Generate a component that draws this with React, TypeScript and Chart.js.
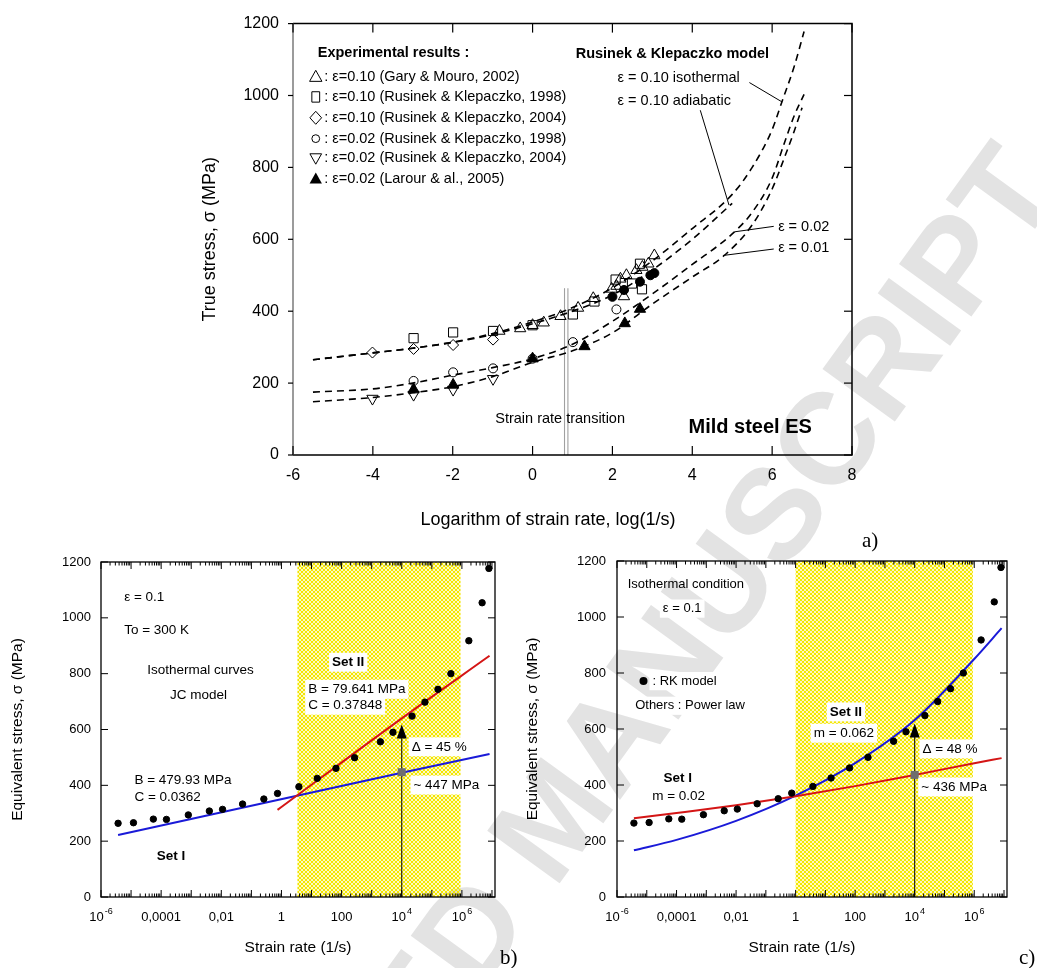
import React, { useEffect, useRef } from "react";
import { Chart, registerables } from "chart.js";

Chart.register(...registerables);

const FONT = "'Liberation Sans', Arial, Helvetica, sans-serif";
const SERIF = "'Liberation Serif', 'Times New Roman', serif";
Chart.defaults.font.family = FONT;
Chart.defaults.color = "#000";

// ---------------- Panel a) data ----------------
const stressTicks = [0, 200, 400, 600, 800, 1000, 1200];
const logTicksA = [-6, -4, -2, 0, 2, 4, 6, 8];

const garyLog = [-0.83, -0.31, 0, 0.28, 0.7, 1.14, 1.52, 1.98, 2.1, 2.2, 2.29, 2.35, 2.6, 2.75, 2.9, 3.05];
const garyStress = [345, 352, 361, 368, 386, 409, 436, 462, 470, 490, 441, 500, 514, 523, 532, 555];
const rk98SqLog = [-2.98, -1.99, -0.99, 0, 1.01, 1.55, 2.08, 2.49, 2.69, 2.74];
const rk98SqStress = [325, 341, 345, 361, 391, 427, 488, 477, 532, 461];
const rk04DiaLog = [-4.01, -2.98, -1.99, -0.99];
const rk04DiaStress = [285, 295, 306, 321];
const rk98CircLog = [-2.98, -1.99, -0.99, 0, 1.01, 2.1];
const rk98CircStress = [206, 230, 241, 268, 314, 405];
const rk04TriLog = [-4.01, -2.98, -1.99, -0.99];
const rk04TriStress = [157, 168, 182, 212];
const larourLog = [-2.98, -1.99, 0, 1.3, 2.31, 2.69];
const larourStress = [182, 195, 268, 302, 366, 406];
const filledLog = [2.0, 2.29, 2.69, 2.95, 3.05];
const filledStress = [440, 459, 482, 500, 506];

const isoLog = [-5.5, -4, -3, -2, -1, 0, 1, 2, 3, 4, 5, 5.5, 6, 6.25, 6.55, 6.8];
const isoStress = [265, 284, 297, 314, 338, 370, 410, 465, 540, 630, 725, 800, 905, 984, 1080, 1178];
const adiLog = [-5.5, -4, -3, -2, -1, 0, 1, 2, 3, 4, 5];
const adiStress = [265, 284, 297, 313, 335, 365, 400, 445, 515, 600, 700];
const eps02Log = [-5.5, -4, -3, -2, -1, 0, 1, 2, 3, 4, 5, 5.5, 6, 6.3, 6.55, 6.8];
const eps02Stress = [175, 184, 200, 222, 243, 268, 308, 372, 448, 530, 615, 675, 770, 866, 943, 1003];
const eps01Log = [-5.5, -4, -3, -2, -1, 0, 1, 2, 3, 4, 4.8, 5.5, 6, 6.3, 6.55, 6.75];
const eps01Stress = [148, 160, 173, 190, 218, 258, 290, 340, 420, 495, 555, 640, 740, 825, 900, 966];

const transitionLog = [0.8, 0.885];
const transitionTop = 464;

// ---------------- Panels b) and c) data ----------------
const rateTickValues = [1e-6, 1e-4, 1e-2, 1, 100, 1e4, 1e6];
const rateTickText = ["10", "0,0001", "0,01", "1", "100", "10", "10"];
const rateTickSup = ["-6", "", "", "", "", "4", "6"];

const rkRate = [3.7e-6, 1.2e-5, 5.5e-5, 1.5e-4, 8e-4, 4e-3, 1.1e-2, 5.1e-2, 2.6e-1, 7.4e-1, 3.8, 15.5, 65, 270, 1950, 5100, 2.2e4, 5.9e4, 1.6e5, 4.3e5, 1.7e6, 4.7e6, 7.9e6];
const rkStress = [264, 266, 279, 278, 294, 308, 314, 333, 351, 371, 395, 425, 461, 499, 556, 590, 648, 698, 744, 800, 918, 1054, 1177];

// JC fits (panel b)
const jcSet1Rate = [3.7e-6, 1e4, 8.3e6];
const jcSet1Stress = [222, 445, 512];
const jcSet2Rate = [0.74, 1e4, 8.3e6];
const jcSet2Stress = [312, 640, 864];
const bandB = [3.4, 9e5];
const arrowB = { rate: 1e4, base: 447, tip: 618 };

// Power-law fits (panel c)
const plRate = [3.7e-6, 1e-4, 1e-2, 1, 100, 1e4, 1e6, 8.3e6];
const plSet1Stress = [281, 300, 328, 360, 396, 436, 478, 496];
const plSet2Stress = [167, 204, 272, 362, 478, 632, 850, 960];
const bandC = [1, 9e5];
const arrowC = { rate: 1e4, base: 436, tip: 620 };

const zip = (xs: number[], ys: number[]) => xs.map((x, i) => ({ x, y: ys[i] }));

// ---------------- drawing helpers ----------------
function txt(ctx: CanvasRenderingContext2D, s: string, x: number, y: number, o: any = {}) {
  const size = o.size ?? 13;
  ctx.save();
  ctx.font = `${o.bold ? "bold " : ""}${size}px ${o.family ?? FONT}`;
  ctx.textAlign = o.align ?? "left";
  ctx.textBaseline = "middle";
  if (o.bg) {
    const w = ctx.measureText(s).width;
    const x0 = o.align === "center" ? x - w / 2 : o.align === "right" ? x - w : x;
    ctx.fillStyle = "#fff";
    ctx.fillRect(x0 - 3, y - size * 0.7, w + 6, size * 1.4);
  }
  ctx.fillStyle = "#000";
  ctx.fillText(s, x, y);
  ctx.restore();
}

function seg(ctx: CanvasRenderingContext2D, x1: number, y1: number, x2: number, y2: number) {
  ctx.beginPath();
  ctx.moveTo(x1, y1);
  ctx.lineTo(x2, y2);
  ctx.stroke();
}

function sym(ctx: CanvasRenderingContext2D, kind: string, cx: number, cy: number, r: number) {
  ctx.save();
  ctx.lineWidth = 1;
  ctx.strokeStyle = "#000";
  ctx.fillStyle = "#000";
  ctx.beginPath();
  if (kind === "tri" || kind === "triFill") {
    ctx.moveTo(cx, cy - r);
    ctx.lineTo(cx + r * 0.95, cy + r * 0.7);
    ctx.lineTo(cx - r * 0.95, cy + r * 0.7);
    ctx.closePath();
    kind === "triFill" ? ctx.fill() : ctx.stroke();
  } else if (kind === "triDown") {
    ctx.moveTo(cx, cy + r);
    ctx.lineTo(cx + r * 0.9, cy - r * 0.6);
    ctx.lineTo(cx - r * 0.9, cy - r * 0.6);
    ctx.closePath();
    ctx.stroke();
  } else if (kind === "sq") {
    ctx.rect(cx - r * 0.6, cy - r * 0.8, r * 1.2, r * 1.6);
    ctx.stroke();
  } else if (kind === "dia") {
    ctx.moveTo(cx, cy - r);
    ctx.lineTo(cx + r * 0.9, cy);
    ctx.lineTo(cx, cy + r);
    ctx.lineTo(cx - r * 0.9, cy);
    ctx.closePath();
    ctx.stroke();
  } else if (kind === "circ") {
    ctx.arc(cx, cy, r * 0.6, 0, Math.PI * 2);
    ctx.stroke();
  }
  ctx.restore();
}

let hatchCache: CanvasPattern | null = null;
function hatch(ctx: CanvasRenderingContext2D) {
  if (hatchCache) return hatchCache;
  const c = document.createElement("canvas");
  c.width = 4;
  c.height = 4;
  const g = c.getContext("2d")!;
  g.fillStyle = "#f4e600";
  g.fillRect(0, 0, 4, 4);
  g.globalCompositeOperation = "destination-out";
  g.strokeStyle = "rgba(0,0,0,0.85)";
  g.lineWidth = 0.9;
  g.beginPath();
  g.moveTo(0, 0);
  g.lineTo(4, 4);
  g.moveTo(4, 0);
  g.lineTo(0, 4);
  g.stroke();
  hatchCache = ctx.createPattern(c, "repeat");
  return hatchCache!;
}

// ---------------- Panel a) plugin ----------------
const pluginA = {
  id: "overlayA",
  beforeDatasetsDraw(chart: any) {
    const { ctx, scales: { x, y } } = chart;
    ctx.save();
    ctx.strokeStyle = "#a0a0a0";
    ctx.lineWidth = 1.1;
    for (const t of transitionLog) {
      const px = x.getPixelForValue(t);
      seg(ctx, px, y.getPixelForValue(0), px, y.getPixelForValue(transitionTop));
    }
    ctx.restore();
  },
  afterDraw(chart: any) {
    const { ctx, chartArea: { left, right, top, bottom }, scales: { x, y } } = chart;
    const X = (v: number) => x.getPixelForValue(v);
    const Y = (v: number) => y.getPixelForValue(v);
    ctx.save();
    ctx.lineWidth = 1.5;
    ctx.strokeStyle = "#000";
    ctx.beginPath();
    ctx.moveTo(left, top);
    ctx.lineTo(right, top);
    ctx.lineTo(right, bottom);
    ctx.lineTo(left, bottom);
    ctx.stroke();
    ctx.strokeStyle = "#7a7a7a";
    seg(ctx, left, top, left, bottom);
    ctx.strokeStyle = "#000";
    ctx.lineWidth = 1.2;
    for (const v of logTicksA) {
      seg(ctx, X(v), bottom, X(v), bottom - 9);
      seg(ctx, X(v), top, X(v), top + 9);
    }
    for (const v of stressTicks) {
      seg(ctx, right, Y(v), right - 8, Y(v));
      seg(ctx, left, Y(v), left - 5, Y(v));
    }
    ctx.restore();

    // legend block
    txt(ctx, "Experimental results :", X(-5.38), Y(1118), { size: 14.5, bold: true });
    const rows = [
      ["tri", ": ε=0.10 (Gary & Mouro, 2002)", 1052],
      ["sq", ": ε=0.10 (Rusinek & Klepaczko, 1998)", 996],
      ["dia", ": ε=0.10 (Rusinek & Klepaczko, 2004)", 938],
      ["circ", ": ε=0.02 (Rusinek & Klepaczko, 1998)", 880],
      ["triDown", ": ε=0.02 (Rusinek & Klepaczko, 2004)", 827],
      ["triFill", ": ε=0.02 (Larour & al., 2005)", 768],
    ] as const;
    for (const [k, s, v] of rows) {
      sym(ctx, k, X(-5.43), Y(v), 6.5);
      txt(ctx, s, X(-5.22), Y(v), { size: 14.5 });
    }

    txt(ctx, "Rusinek & Klepaczko model", X(1.08), Y(1116), { size: 14.5, bold: true });
    txt(ctx, "ε = 0.10 isothermal", X(2.13), Y(1050), { size: 14.5 });
    txt(ctx, "ε = 0.10 adiabatic", X(2.13), Y(986), { size: 14.5 });
    txt(ctx, "ε = 0.02", X(6.15), Y(634), { size: 14.5 });
    txt(ctx, "ε = 0.01", X(6.15), Y(575), { size: 14.5 });
    txt(ctx, "Strain rate transition", X(0.69), Y(100), { size: 14.5, align: "center" });
    txt(ctx, "Mild steel ES", X(5.45), Y(77), { size: 20, bold: true, align: "center" });

    ctx.save();
    ctx.strokeStyle = "#000";
    ctx.lineWidth = 1;
    seg(ctx, X(5.43), Y(1036), X(6.25), Y(982));
    seg(ctx, X(4.2), Y(959), X(4.92), Y(695));
    seg(ctx, X(6.04), Y(636), X(5.07), Y(621));
    seg(ctx, X(6.04), Y(573), X(4.77), Y(555));
    ctx.restore();

    // axis titles
    ctx.save();
    ctx.translate(60, (top + bottom) / 2);
    ctx.rotate(-Math.PI / 2);
    txt(ctx, "True stress, σ (MPa)", 0, 0, { size: 18, align: "center" });
    ctx.restore();
    txt(ctx, "Logarithm of strain rate, log(1/s)", 398, 520, { size: 18, align: "center" });
  },
};

// ---------------- Panels b) / c) helpers ----------------
function drawBand(chart: any, band: number[]) {
  const { ctx, chartArea: { top, bottom }, scales: { x } } = chart;
  const x0 = x.getPixelForValue(band[0]);
  const x1 = x.getPixelForValue(band[1]);
  ctx.save();
  ctx.fillStyle = hatch(ctx);
  ctx.fillRect(x0, top, x1 - x0, bottom - top);
  ctx.restore();
}

function drawLogFrame(chart: any, titleX: number) {
  const { ctx, chartArea: { left, right, top, bottom }, scales: { x, y } } = chart;
  ctx.save();
  ctx.strokeStyle = "#000";
  ctx.lineWidth = 1.3;
  ctx.strokeRect(left, top, right - left, bottom - top);
  ctx.lineWidth = 1;
  for (let d = -6; d <= 7; d++) {
    for (let k = 1; k <= 9; k++) {
      const v = k * Math.pow(10, d);
      if (v < x.min * 0.999 || v > x.max) continue;
      const px = x.getPixelForValue(v);
      const L = k === 1 ? 7 : 3.5;
      seg(ctx, px, bottom, px, bottom - L);
      seg(ctx, px, top, px, top + L);
    }
  }
  for (const v of stressTicks) {
    const py = y.getPixelForValue(v);
    seg(ctx, left, py, left + 7, py);
    seg(ctx, right, py, right - 7, py);
  }
  ctx.restore();

  // x tick labels with superscripts
  const ly = bottom + 20;
  rateTickValues.forEach((v, i) => {
    const px = x.getPixelForValue(v);
    ctx.save();
    ctx.font = `13px ${FONT}`;
    const w1 = ctx.measureText(rateTickText[i]).width;
    ctx.font = `9px ${FONT}`;
    const w2 = rateTickSup[i] ? ctx.measureText(rateTickSup[i]).width + 1 : 0;
    ctx.restore();
    const sx = px - (w1 + w2) / 2;
    txt(ctx, rateTickText[i], sx, ly, { size: 13 });
    if (rateTickSup[i]) txt(ctx, rateTickSup[i], sx + w1 + 1, ly - 5, { size: 9 });
  });

  ctx.save();
  ctx.translate(18, (top + bottom) / 2);
  ctx.rotate(-Math.PI / 2);
  txt(ctx, "Equivalent stress, σ (MPa)", 0, 0, { size: 15.5, align: "center" });
  ctx.restore();
  txt(ctx, "Strain rate (1/s)", titleX, 408, { size: 15.5, align: "center" });
}

function drawArrow(chart: any, a: { rate: number; base: number; tip: number }) {
  const { ctx, scales: { x, y } } = chart;
  const ax = x.getPixelForValue(a.rate);
  const yt = y.getPixelForValue(a.tip);
  ctx.save();
  ctx.strokeStyle = "#000";
  ctx.lineWidth = 1;
  seg(ctx, ax, y.getPixelForValue(0), ax, yt + 8);
  ctx.fillStyle = "#000";
  ctx.beginPath();
  ctx.moveTo(ax, yt);
  ctx.lineTo(ax + 5, yt + 14);
  ctx.lineTo(ax - 5, yt + 14);
  ctx.closePath();
  ctx.fill();
  ctx.fillStyle = "#6e6e6e";
  const by = y.getPixelForValue(a.base);
  ctx.fillRect(ax - 4, by - 4, 8, 8);
  ctx.restore();
}

const pluginB = {
  id: "overlayB",
  beforeDatasetsDraw(chart: any) {
    drawBand(chart, bandB);
  },
  afterDraw(chart: any) {
    const { ctx, scales: { x, y } } = chart;
    const X = (lg: number) => x.getPixelForValue(Math.pow(10, lg));
    const Y = (v: number) => y.getPixelForValue(v);
    drawArrow(chart, arrowB);
    drawLogFrame(chart, 298);
    txt(ctx, "ε = 0.1", X(-5.23), Y(1073), { size: 13.5 });
    txt(ctx, "To = 300 K", X(-5.23), Y(956), { size: 13.5 });
    txt(ctx, "Isothermal curves", X(-2.69), Y(811), { size: 13.5, align: "center" });
    txt(ctx, "JC model", X(-2.76), Y(721), { size: 13.5, align: "center" });
    txt(ctx, "Set II", X(2.22), Y(841), { size: 13.5, bold: true, align: "center", bg: true });
    txt(ctx, "B = 79.641 MPa", X(0.89), Y(744), { size: 13.5, bg: true });
    txt(ctx, "C = 0.37848", X(0.89), Y(687), { size: 13.5, bg: true });
    txt(ctx, "Δ = 45 %", X(4.33), Y(538), { size: 13.5, bg: true });
    txt(ctx, "~ 447 MPa", X(4.39), Y(401), { size: 13.5, bg: true });
    txt(ctx, "B = 479.93 MPa", X(-4.89), Y(419), { size: 13.5 });
    txt(ctx, "C = 0.0362", X(-4.89), Y(357), { size: 13.5 });
    txt(ctx, "Set I", X(-3.67), Y(147), { size: 13.5, bold: true, align: "center" });
  },
};

const pluginC = {
  id: "overlayC",
  beforeDatasetsDraw(chart: any) {
    drawBand(chart, bandC);
  },
  afterDraw(chart: any) {
    const { ctx, scales: { x, y } } = chart;
    const X = (lg: number) => x.getPixelForValue(Math.pow(10, lg));
    const Y = (v: number) => y.getPixelForValue(v);
    drawArrow(chart, arrowC);
    drawLogFrame(chart, 287);
    txt(ctx, "Isothermal condition", X(-5.64), Y(1116), { size: 13 });
    txt(ctx, "ε = 0.1", X(-3.81), Y(1030), { size: 13, align: "center", bg: true });
    ctx.save();
    ctx.fillStyle = "#000";
    ctx.beginPath();
    ctx.arc(X(-5.11), Y(771), 4, 0, Math.PI * 2);
    ctx.fill();
    ctx.restore();
    txt(ctx, ": RK model", X(-4.81), Y(771), { size: 13, bg: true });
    txt(ctx, "Others : Power law", X(-5.39), Y(683), { size: 13, bg: true });
    txt(ctx, "Set II", X(1.69), Y(661), { size: 13.5, bold: true, align: "center", bg: true });
    txt(ctx, "m = 0.062", X(1.62), Y(585), { size: 13.5, align: "center", bg: true });
    txt(ctx, "Set I", X(-3.96), Y(425), { size: 13.5, bold: true, align: "center" });
    txt(ctx, "m = 0.02", X(-3.93), Y(358), { size: 13.5, align: "center" });
    txt(ctx, "Δ = 48 %", X(4.26), Y(529), { size: 13.5, bg: true });
    txt(ctx, "~ 436 MPa", X(4.22), Y(393), { size: 13.5, bg: true });
  },
};

// ---------------- configs ----------------
const open = (data: any, style: string, r: number, rot = 0) => ({
  data,
  pointStyle: style,
  pointRadius: r,
  pointRotation: rot,
  borderColor: "#000",
  backgroundColor: "rgba(255,255,255,0)",
  pointBorderWidth: 1,
  showLine: false,
});
const filled = (data: any, style: string, r: number) => ({
  data,
  pointStyle: style,
  pointRadius: r,
  borderColor: "#000",
  backgroundColor: "#000",
  pointBorderWidth: 1,
  showLine: false,
});
const dashed = (data: any) => ({
  data,
  showLine: true,
  pointRadius: 0,
  borderColor: "#000",
  borderWidth: 1.6,
  borderDash: [7, 5],
  cubicInterpolationMode: "monotone",
  fill: false,
});

const noGrid = { display: false, drawTicks: false };

function configA(): any {
  return {
    type: "scatter",
    data: {
      datasets: [
        open(zip(garyLog, garyStress), "triangle", 6.5),
        open(zip(rk98SqLog, rk98SqStress), "rect", 6.5),
        open(zip(rk04DiaLog, rk04DiaStress), "rectRot", 5.5),
        open(zip(rk98CircLog, rk98CircStress), "circle", 4.5),
        open(zip(rk04TriLog, rk04TriStress), "triangle", 6.5, 180),
        filled(zip(larourLog, larourStress), "triangle", 6.5),
        filled(zip(filledLog, filledStress), "circle", 4.5),
        dashed(zip(isoLog, isoStress)),
        dashed(zip(adiLog, adiStress)),
        dashed(zip(eps02Log, eps02Stress)),
        dashed(zip(eps01Log, eps01Stress)),
      ],
    },
    options: {
      responsive: false,
      animation: false,
      layout: { padding: { top: 16, right: 28, left: 0, bottom: 0 } },
      plugins: { legend: { display: false }, tooltip: { enabled: false } },
      scales: {
        x: {
          type: "linear",
          min: -6,
          max: 8,
          ticks: { stepSize: 2, font: { size: 16 }, padding: 11, callback: (v: any) => String(v) },
          grid: noGrid,
          border: { display: false },
          afterFit: (s: any) => { s.height = 85; },
        },
        y: {
          type: "linear",
          min: 0,
          max: 1200,
          ticks: { stepSize: 200, font: { size: 16 }, padding: 14, callback: (v: any) => String(v) },
          grid: noGrid,
          border: { display: false },
          afterFit: (s: any) => { s.width = 143; },
        },
      },
    },
    plugins: [pluginA],
  };
}

function lineDs(data: any, color: string) {
  return {
    data,
    showLine: true,
    pointRadius: 0,
    borderColor: color,
    borderWidth: 2,
    cubicInterpolationMode: "monotone",
    fill: false,
  };
}

function panelOptions(yWidth: number, padTop: number, padRight: number, yPad: number): any {
  return {
    responsive: false,
    animation: false,
    layout: { padding: { top: padTop, right: padRight, left: 0, bottom: 0 } },
    plugins: { legend: { display: false }, tooltip: { enabled: false } },
    scales: {
      x: {
        type: "logarithmic",
        min: 1e-6,
        max: 1.26e7,
        ticks: { display: false },
        grid: noGrid,
        border: { display: false },
        afterFit: (s: any) => { s.height = 71; },
      },
      y: {
        type: "linear",
        min: 0,
        max: 1200,
        ticks: { stepSize: 200, font: { size: 13 }, padding: yPad, callback: (v: any) => String(v) },
        grid: noGrid,
        border: { display: false },
        afterFit: (s: any) => { s.width = yWidth; },
      },
    },
  };
}

const dots = (data: any) => ({
  data,
  pointStyle: "circle",
  pointRadius: 3.2,
  borderColor: "#000",
  backgroundColor: "#000",
  showLine: false,
});

function configB(): any {
  return {
    type: "scatter",
    data: {
      datasets: [
        dots(zip(rkRate, rkStress)),
        lineDs(zip(jcSet2Rate, jcSet2Stress), "#d41515"),
        lineDs(zip(jcSet1Rate, jcSet1Stress), "#1a1ad8"),
      ],
    },
    options: panelOptions(101, 22, 20, 10),
    plugins: [pluginB],
  };
}

function configC(): any {
  return {
    type: "scatter",
    data: {
      datasets: [
        dots(zip(rkRate, rkStress)),
        lineDs(zip(plRate, plSet1Stress), "#d41515"),
        lineDs(zip(plRate, plSet2Stress), "#1a1ad8"),
      ],
    },
    options: panelOptions(102, 21, 30, 11),
    plugins: [pluginC],
  };
}

export default function App() {
  const refA = useRef<HTMLCanvasElement>(null);
  const refB = useRef<HTMLCanvasElement>(null);
  const refC = useRef<HTMLCanvasElement>(null);

  useEffect(() => {
    const charts = [
      new Chart(refA.current!, configA()),
      new Chart(refB.current!, configB()),
      new Chart(refC.current!, configC()),
    ];
    return () => charts.forEach((c) => c.destroy());
  }, []);

  const lbl = (s: string, left: number, top: number) => (
    <div style={{ position: "absolute", left, top, font: `21px ${SERIF}`, color: "#000", lineHeight: "24px" }}>{s}</div>
  );

  return (
    <div style={{ position: "absolute", left: 0, top: 0, width: 1037, height: 968, background: "#fff", overflow: "hidden" }}>
      <div
        style={{
          position: "absolute",
          left: 552,
          top: 817,
          transform: "translate(-50%, -50%) rotate(-54deg)",
          font: `bold 130px ${FONT}`,
          color: "#e3e3e3",
          whiteSpace: "nowrap",
          lineHeight: "130px",
          pointerEvents: "none",
        }}
      >
        ACCEPTED MANUSCRIPT
      </div>
      <canvas ref={refA} width={730} height={540} style={{ position: "absolute", left: 150, top: 0 }} />
      <canvas ref={refB} width={515} height={428} style={{ position: "absolute", left: 0, top: 540 }} />
      <canvas ref={refC} width={522} height={428} style={{ position: "absolute", left: 515, top: 540 }} />
      {lbl("a)", 862, 528)}
      {lbl("b)", 500, 945)}
      {lbl("c)", 1019, 945)}
    </div>
  );
}
